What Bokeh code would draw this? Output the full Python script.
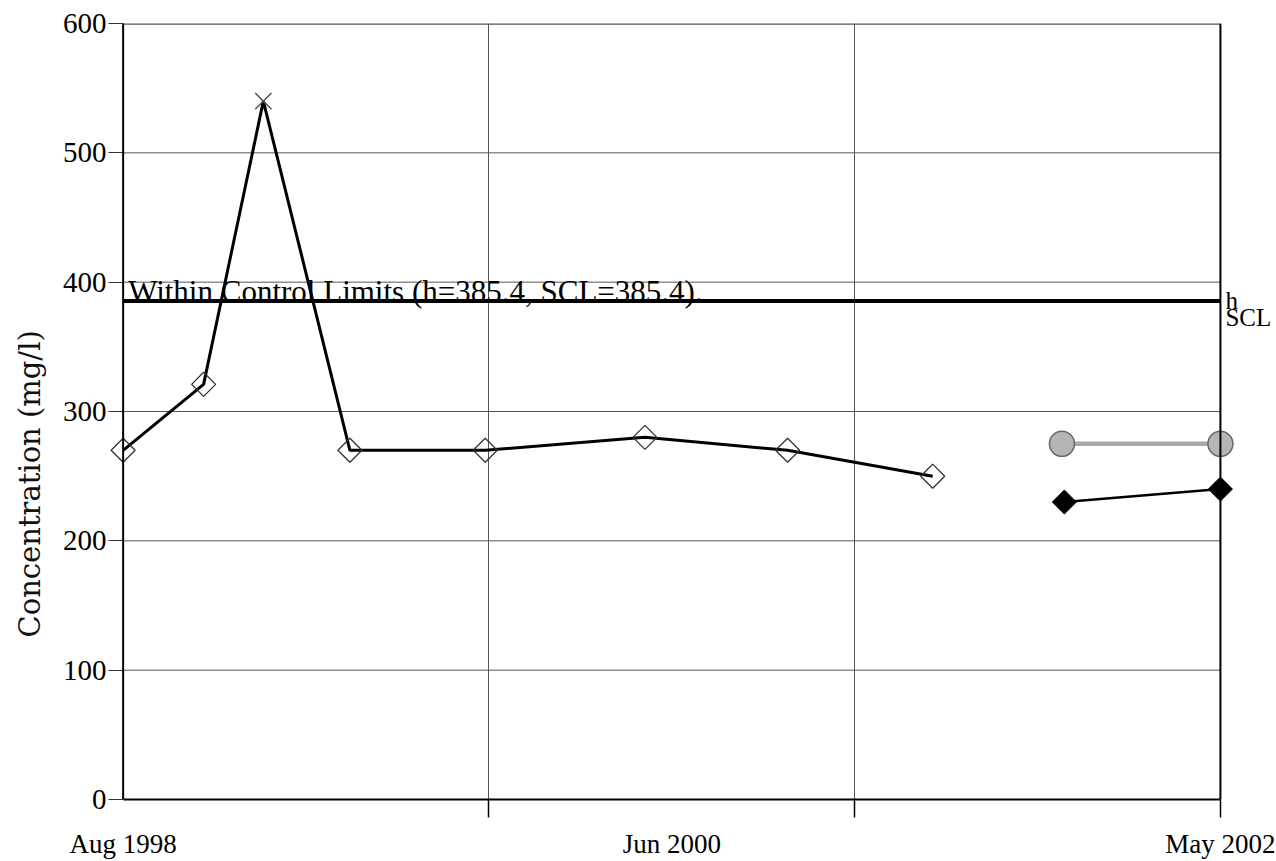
import math
from bokeh.plotting import figure
from bokeh.models import Range1d, FixedTicker, Span, Label, Title
from bokeh.embed import file_html
from bokeh.resources import INLINE

# ---------------- data (x = months since Aug 1998) ----------------
months_main = [0, 3.3, 5.75, 9.3, 14.85, 21.4, 27.25, 33.2]
conc_main = [270, 321, 540, 270, 270, 280, 270, 250]
outlier_index = 2  # the point drawn with an "x"

months_gray = [38.5, 45]
conc_gray = [275, 275]

months_filled = [38.6, 45]
conc_filled = [230, 240]

h_value = 385.4
scl_value = 385.4

x_start, x_end = 0, 45
x_label_ticks = [0, 22.5, 45]
x_labels = ["Aug 1998", "Jun 2000", "May 2002"]
x_grid_ticks = [15, 30]
x_edge_ticks = [15, 30, 45]
y_ticks = [0, 100, 200, 300, 400, 500, 600]

SERIF = "Liberation Serif"

p = figure(width=1276, height=861,
           x_range=Range1d(-0.6, 47.3), y_range=Range1d(0, 600),
           output_backend="svg", toolbar_location=None,
           min_border_left=108, min_border_right=0,
           min_border_top=23, min_border_bottom=62)
p.outline_line_color = None
p.background_fill_color = "white"

# grid
p.xgrid.ticker = FixedTicker(ticks=x_grid_ticks)
p.xgrid.grid_line_color = "#555555"
p.xgrid.grid_line_width = 1
p.ygrid.visible = False
inner = y_ticks[1:-1]
p.segment(x0=[x_start] * len(inner), y0=inner, x1=[x_end] * len(inner), y1=inner,
          line_color="#555555", line_width=1)
p.segment(x0=[x_start], y0=[y_ticks[-1]], x1=[x_end], y1=[y_ticks[-1]],
          line_color="#555555", line_width=2.5)
p.add_layout(Span(location=x_start, dimension="height", line_color="black", line_width=2))
p.add_layout(Span(location=x_end, dimension="height", line_color="black", line_width=2))

# y axis (ticks reach inward to the axis line at x=0)
ya = p.yaxis[0]
ya.ticker = FixedTicker(ticks=y_ticks)
ya.major_tick_out = 0
ya.major_tick_in = 15
ya.minor_tick_out = 0
ya.minor_tick_in = 0
ya.major_tick_line_color = "#333333"
ya.major_tick_line_width = 1.2
ya.axis_line_color = None
ya.major_label_standoff = 2
ya.major_label_text_font = SERIF
ya.major_label_text_font_size = "29px"
ya.major_label_text_color = "black"

p.add_layout(Title(text="Concentration (mg/l)", align="left", offset=162,
                   vertical_align="top", text_font="DejaVu Serif",
                   text_font_size="29px", text_font_style="normal",
                   text_color="#111111", standoff=22), "left")

# x axis
xa = p.xaxis[0]
xa.bounds = (x_start, x_end)
xa.ticker = FixedTicker(ticks=x_label_ticks, minor_ticks=x_edge_ticks)
xa.major_label_overrides = {t: s for t, s in zip(x_label_ticks, x_labels)}
xa.major_tick_out = 0
xa.major_tick_in = 0
xa.major_tick_line_color = None
xa.minor_tick_out = 18
xa.minor_tick_in = 0
xa.minor_tick_line_color = "black"
xa.minor_tick_line_width = 1.5
xa.axis_line_color = "black"
xa.axis_line_width = 2
xa.major_label_standoff = 11
xa.major_label_text_font = SERIF
xa.major_label_text_font_size = "27px"
xa.major_label_text_color = "black"

# control limit
p.segment(x0=[x_start], y0=[h_value], x1=[x_end], y1=[h_value], line_color="black", line_width=4)
p.add_layout(Label(x=x_start, y=h_value, x_offset=5, y_offset=10,
                   text="Within Control Limits (h=%.1f, SCL=%.1f)." % (h_value, scl_value),
                   text_baseline="alphabetic", text_font=SERIF, text_font_size="31px",
                   text_color="black"))
p.add_layout(Label(x=x_end, y=h_value, x_offset=5, y_offset=1, text="h",
                   text_baseline="alphabetic", text_font=SERIF, text_font_size="25px",
                   text_color="black"))
p.add_layout(Label(x=x_end, y=scl_value, x_offset=5, y_offset=-3, text="SCL",
                   text_baseline="top", text_font=SERIF, text_font_size="25px",
                   text_color="black"))

# main series
p.line(months_main, conc_main, line_color="black", line_width=3)
dx = [m for i, m in enumerate(months_main) if i != outlier_index]
dy = [c for i, c in enumerate(conc_main) if i != outlier_index]
p.scatter(dx, dy, marker="square", angle=math.pi / 4, size=17,
          fill_color=None, line_color="#333333", line_width=1.3)
p.scatter([months_main[outlier_index]], [conc_main[outlier_index]], marker="x",
          size=23, line_color="#555555", line_width=1.5)

# gray series
p.line(months_gray, conc_gray, line_color="#a8a8a8", line_width=4.5)
p.scatter(months_gray, conc_gray, marker="circle", size=25,
          fill_color="#b5b5b5", line_color="#666666", line_width=1.5)

# filled diamond series
p.line(months_filled, conc_filled, line_color="black", line_width=2.5)
p.scatter(months_filled, conc_filled, marker="square", angle=math.pi / 4, size=17,
          fill_color="black", line_color="black", line_width=1)

open("out.html", "w").write(file_html(p, INLINE))
